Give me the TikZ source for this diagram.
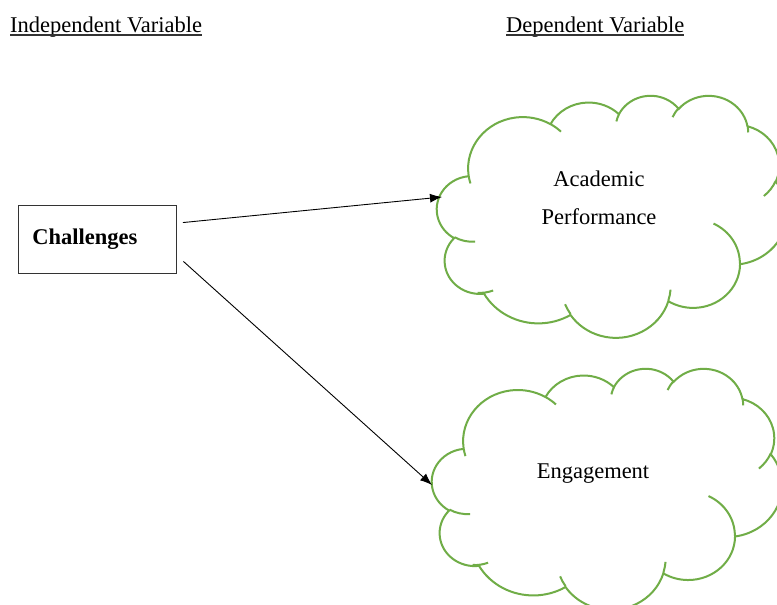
\documentclass[tikz,border=0pt]{standalone}
\usepackage{fontspec}
\setmainfont{Liberation Serif}
\usetikzlibrary{arrows.meta}

\definecolor{cloudgreen}{HTML}{70AD47}

% Cloud outline, in a 43.2 x 43.2 box: wR/hR/start/sweep (angles measured on screen, y down)
\newcommand\cloudouter{%
  6.753/9.190/-190.4875/123.7805,
  5.333/7.267/-144.1024/89.9452,
  4.365/5.945/-145.8079/99.7230,
  4.857/6.595/-130.9861/117.2417,
  5.333/7.273/-78.7089/109.0269,
  6.775/9.220/-46.2673/130.2690,
  5.785/7.867/0.6250/114.0333,
  6.752/9.215/22.4516/115.1726,
  7.720/10.543/66.2426/75.7110,
  4.360/5.918/-274.9421/146.7356,
  4.345/5.945/-246.8285/152.5189}
% Short inner strokes where the lobes overlap: x/y/wR/hR/start/sweep
\newcommand\cloudinner{%
  4.693/26.177/4.345/5.945/86.7420/26.4295,
  6.928/34.899/4.360/5.918/73.6105/19.1381,
  16.478/39.090/6.752/9.215/137.6242/14.0811,
  28.827/34.751/6.752/9.215/6.4533/15.9984,
  34.129/22.954/5.785/7.867/-70.2924/70.9174,
  41.798/15.354/5.333/7.273/30.3180/27.7515,
  38.324/5.426/4.857/6.595/-13.7443/14.8589,
  29.078/3.952/4.857/6.595/-149.1815/18.1954,
  22.141/4.720/4.365/5.945/-163.4943/17.6864,
  14.000/5.192/6.753/9.190/-66.7070/12.3194,
  4.127/15.789/6.753/9.190/157.6544/11.8582}

% one elliptical arc segment, appended to \cldpath
\newcommand\cloudarcstep[4]{%
  \pgfmathsetmacro\cldts{atan2(#1*sin(#3),#2*cos(#3))}%
  \pgfmathsetmacro\cldte{atan2(#1*sin(#3+#4),#2*cos(#3+#4))}%
  \pgfmathsetmacro\cldd{\cldte-(\cldts)}%
  \pgfmathsetmacro\cldd{\cldd+360*round((#4-(\cldd))/360)}%
  \pgfmathsetmacro\cldts{0-(\cldts)}%
  \pgfmathsetmacro\cldd{0-(\cldd)}%
  \pgfmathsetmacro\cldrx{#1*\cldsx}%
  \pgfmathsetmacro\cldry{#2*\cldsy}%
  \xdef\cldpath{\cldpath\space arc[start angle=\cldts, delta angle=\cldd, x radius=\cldrx pt, y radius=\cldry pt]}%
}
% builds the whole cloud path: left, top, width, height (y measured downwards)
\newcommand\cloudpathfor[4]{%
  \pgfmathsetmacro\cldsx{#3/43.2}%
  \pgfmathsetmacro\cldsy{#4/43.2}%
  \pgfmathsetmacro\cldx{#1+3.900*\cldsx}%
  \pgfmathsetmacro\cldy{0-(#2+14.370*\cldsy)}%
  \xdef\cldpath{(\cldx,\cldy)}%
  \foreach \cwr/\chr/\cst/\csw in \cloudouter {%
    \cloudarcstep{\cwr}{\chr}{\cst}{\csw}%
  }%
  \xdef\cldpath{\cldpath\space -- cycle}%
  \foreach \cmx/\cmy/\cwr/\chr/\cst/\csw in \cloudinner {%
    \pgfmathsetmacro\cldx{#1+\cmx*\cldsx}%
    \pgfmathsetmacro\cldy{0-(#2+\cmy*\cldsy)}%
    \xdef\cldpath{\cldpath\space (\cldx,\cldy)}%
    \cloudarcstep{\cwr}{\chr}{\cst}{\csw}%
  }%
}
\newcommand\drawcloud[4]{%
  \cloudpathfor{#1}{#2}{#3}{#4}%
  \edef\cldcmd{\noexpand\draw[cloudline] \cldpath;}\cldcmd
}

\tikzset{
  txt/.style={inner sep=0pt, font=\fontsize{22.5}{38}\selectfont},
  heading/.style={txt, anchor=base west},
  uline/.style={line width=1.3pt, black!80},
  ivbox/.style={draw=black!80, line width=0.9pt, text width=130pt, inner xsep=14pt,
    inner ysep=0pt, minimum height=67.6pt, align=left,
    font=\fontsize{22.5}{27}\selectfont\bfseries},
  cloudline/.style={draw=cloudgreen, line width=2pt},
  arr/.style={line width=0.9pt, -{Latex[length=12pt,width=9pt]}}
}

\begin{document}
\begin{tikzpicture}[x=1pt,y=1pt]
\useasboundingbox (0,0) rectangle (777,-605);
\clip (0,0) rectangle (777,-605);
\fill[white] (0,0) rectangle (777,-605);

% column headings
\node[heading] (indep) at (10,-32.7) {Independent Variable};
\node[heading] (dep) at (506,-32.7) {Dependent Variable};
\draw[uline] ([yshift=-2.3pt]indep.base west) -- ([yshift=-2.3pt]indep.base east);
\draw[uline] ([yshift=-2.3pt]dep.base west) -- ([yshift=-2.3pt]dep.base east);

% independent variable
\node[ivbox] (chal) at (97.3,-239.5) {Challenges};

% dependent variables
\drawcloud{437}{95}{350}{242}
\drawcloud{432}{368}{350}{241}
\node[txt, align=center] (perf) at (599,-198) {Academic\\Performance};
\node[txt, anchor=base] (eng) at (593,-478) {Engagement};

% arrow ends on the cloud outlines
\coordinate (perfin) at (442,-197);
\coordinate (engin) at (432,-485);

\draw[arr] ([shift={(6.2pt,-17.3pt)}]chal.north east) -- (perfin);
\draw[arr] ([shift={(6.7pt,12.3pt)}]chal.south east) -- (engin);
\end{tikzpicture}
\end{document}
